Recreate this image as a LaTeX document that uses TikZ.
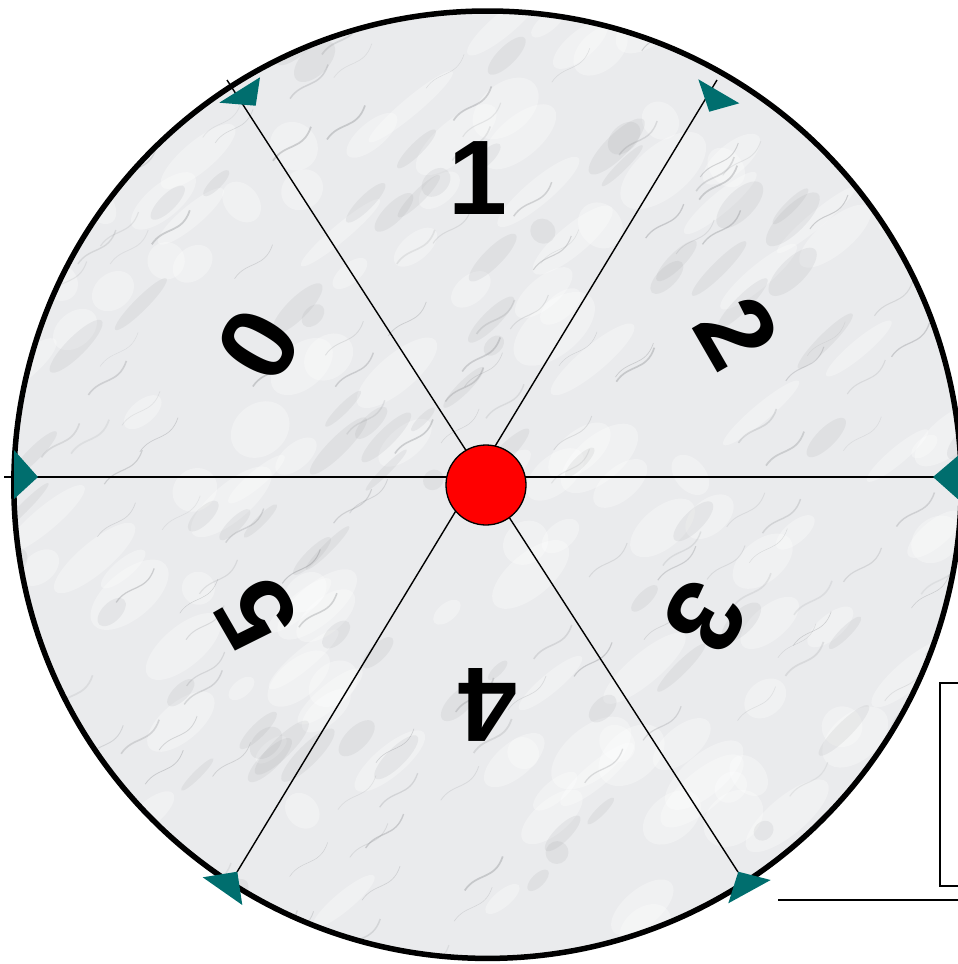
\documentclass[tikz,border=0pt]{standalone}
\usepackage{fontspec}
\setmainfont{Liberation Sans}
\definecolor{teal1}{RGB}{0,110,110}
\definecolor{marblebase}{RGB}{234,235,237}
\definecolor{vein}{RGB}{130,132,136}
\begin{document}
\begin{tikzpicture}[x=1pt,y=-1pt,
  spoke/.style={line width=1.4pt,black},
  tipfill/.style={fill=teal1},
  digit/.style={font=\fontsize{106}{106}\selectfont\bfseries,inner sep=0pt},
  rim/.style={line width=5.5pt,black},
  box/.style={line width=1.8pt,black}]
\useasboundingbox (0,0) rectangle (958,964);
\clip (0,0) rectangle (958,964);
% marble disc
\coordinate (c) at (487.5,484.7);
\begin{scope}
\clip (c) circle (473.7);
\fill[marblebase] (c) circle (474);
\pgfmathsetseed{11}
\foreach \i in {1,...,160}{
  \pgfmathsetmacro\px{rnd*980}
  \pgfmathsetmacro\py{rnd*980}
  \pgfmathsetmacro\rx{15+rnd*40}
  \pgfmathsetmacro\ry{8+rnd*18}
  \fill[white,opacity=0.3] (\px,\py) ellipse [x radius=\rx, y radius=\ry, rotate=40];
}
\foreach \i in {1,...,110}{
  \pgfmathsetmacro\px{rnd*980}
  \pgfmathsetmacro\py{rnd*980}
  \pgfmathsetmacro\rx{10+rnd*30}
  \pgfmathsetmacro\ry{4+rnd*10}
  \fill[vein,opacity=0.1] (\px,\py) ellipse [x radius=\rx, y radius=\ry, rotate=45];
}
\foreach \i in {1,...,170}{
  \pgfmathsetmacro\px{rnd*980}
  \pgfmathsetmacro\py{rnd*980}
  \pgfmathsetmacro\lw{0.4+rnd*1.4}
  \pgfmathsetmacro\op{0.12+rnd*0.22}
  \draw[vein,line width=\lw pt,opacity=\op]
    (\px,\py) .. controls (\px+12,\py-18) and (\px+30,\py-10) .. (\px+38,\py-34);
}
\end{scope}
% rim
\draw[rim] (c) circle (473.7);
% spokes
\coordinate (tl) at (227,80);
\coordinate (br) at (738,872);
\coordinate (tr) at (717,80);
\coordinate (bl) at (237,872);
\coordinate (hl) at (4,477);
\coordinate (hr) at (958,477);
\draw[spoke] (tl) -- (br);
\draw[spoke] (tr) -- (bl);
\draw[spoke] (hl) -- (hr);
% arrow tips
\fill[tipfill] (219.3,102.7) -- (260,77.3) -- (255.7,105.7) -- cycle;
\fill[tipfill] (698.3,79.3) -- (739.3,103.3) -- (709.3,111.7) -- cycle;
\fill[tipfill] (202.7,877.3) -- (237.3,871.7) -- (242.3,905) -- cycle;
\fill[tipfill] (738.3,871.7) -- (770.7,880) -- (728.3,903.3) -- cycle;
\fill[tipfill] (14,450) -- (38,477) -- (14,499) -- cycle;
\fill[tipfill] (960,454) -- (933,477) -- (960,501) -- cycle;
% hub
\node[circle,fill=red,draw=black,line width=1.3pt,minimum size=80pt,inner sep=0pt] (hub) at (486,485) {};
% digits
\node[digit] (d1) at (478,178) {1};
\node[digit,rotate=-60] (d2) at (737,333) {2};
\node[digit,rotate=-120] (d3) at (705,617) {3};
\node[digit,rotate=180] (d4) at (488,705) {4};
\node[digit,rotate=120] (d5) at (257,614) {5};
\node[digit,rotate=60] (d0) at (259,345) {0};
% box and line at lower right
\draw[box] (962,683) -- (940,683) -- (940,886) -- (962,886);
\coordinate (la) at (778,900);
\coordinate (lb) at (958,900);
\draw[box] (la) -- (lb);
\end{tikzpicture}
\end{document}
